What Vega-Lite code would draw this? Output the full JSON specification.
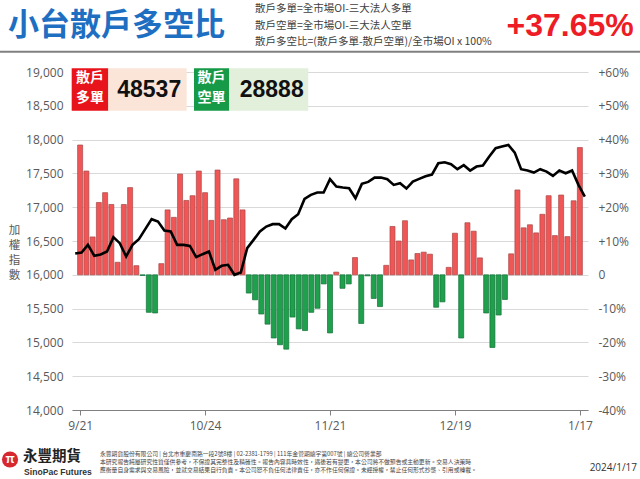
{
  "$schema": "https://vega.github.io/schema/vega-lite/v6.json",
  "width": 516,
  "height": 338,
  "autosize": {"type": "none"},
  "padding": {"left": 72, "top": 72, "right": 52, "bottom": 69},
  "background": "white",
  "config": {"view": {"stroke": null}, "font": "Liberation Sans"},
  "title": {
    "text": "小台散戶多空比",
    "anchor": "start",
    "frame": "group",
    "dx": -64,
    "offset": -38,
    "font": "Noto Sans CJK TC",
    "fontSize": 31,
    "fontWeight": "bold",
    "color": "#1e6fc2"
  },
  "datasets": {
    "daily": [
      {"i": 0, "date": "9/21", "ratio": 38.4, "taiex": 16315},
      {"i": 1, "date": "9/22", "ratio": 30.7, "taiex": 16330},
      {"i": 2, "date": "9/25", "ratio": 11.2, "taiex": 16443},
      {"i": 3, "date": "9/26", "ratio": 21.4, "taiex": 16281},
      {"i": 4, "date": "9/27", "ratio": 24.3, "taiex": 16300},
      {"i": 5, "date": "9/28", "ratio": 20.8, "taiex": 16345},
      {"i": 6, "date": "10/2", "ratio": 3.7, "taiex": 16557},
      {"i": 7, "date": "10/3", "ratio": 20.8, "taiex": 16468},
      {"i": 8, "date": "10/4", "ratio": 25.8, "taiex": 16271},
      {"i": 9, "date": "10/5", "ratio": 2.7, "taiex": 16443},
      {"i": 10, "date": "10/6", "ratio": -0.2, "taiex": 16527},
      {"i": 11, "date": "10/11", "ratio": -11.1, "taiex": 16675},
      {"i": 12, "date": "10/12", "ratio": -11.3, "taiex": 16823},
      {"i": 13, "date": "10/13", "ratio": 3.3, "taiex": 16788},
      {"i": 14, "date": "10/16", "ratio": 19.2, "taiex": 16655},
      {"i": 15, "date": "10/17", "ratio": 17.0, "taiex": 16640},
      {"i": 16, "date": "10/18", "ratio": 29.8, "taiex": 16443},
      {"i": 17, "date": "10/19", "ratio": 22.0, "taiex": 16443},
      {"i": 18, "date": "10/20", "ratio": 23.4, "taiex": 16428},
      {"i": 19, "date": "10/23", "ratio": 30.7, "taiex": 16261},
      {"i": 20, "date": "10/24", "ratio": 24.3, "taiex": 16305},
      {"i": 21, "date": "10/25", "ratio": 16.1, "taiex": 16345},
      {"i": 22, "date": "10/26", "ratio": 31.0, "taiex": 16074},
      {"i": 23, "date": "10/27", "ratio": 16.3, "taiex": 16133},
      {"i": 24, "date": "10/30", "ratio": 16.8, "taiex": 16148},
      {"i": 25, "date": "10/31", "ratio": 28.4, "taiex": 16000},
      {"i": 26, "date": "11/1", "ratio": 19.2, "taiex": 16034},
      {"i": 27, "date": "11/2", "ratio": -5.4, "taiex": 16394},
      {"i": 28, "date": "11/3", "ratio": -7.4, "taiex": 16517},
      {"i": 29, "date": "11/6", "ratio": -11.6, "taiex": 16640},
      {"i": 30, "date": "11/7", "ratio": -14.6, "taiex": 16714},
      {"i": 31, "date": "11/8", "ratio": -18.7, "taiex": 16749},
      {"i": 32, "date": "11/9", "ratio": -20.7, "taiex": 16749},
      {"i": 33, "date": "11/10", "ratio": -22.0, "taiex": 16685},
      {"i": 34, "date": "11/13", "ratio": -12.5, "taiex": 16823},
      {"i": 35, "date": "11/14", "ratio": -16.0, "taiex": 16897},
      {"i": 36, "date": "11/15", "ratio": -16.5, "taiex": 17123},
      {"i": 37, "date": "11/16", "ratio": -11.1, "taiex": 17182},
      {"i": 38, "date": "11/17", "ratio": -9.9, "taiex": 17217},
      {"i": 39, "date": "11/20", "ratio": -2.7, "taiex": 17217},
      {"i": 40, "date": "11/21", "ratio": -17.2, "taiex": 17414},
      {"i": 41, "date": "11/22", "ratio": 0.8, "taiex": 17305},
      {"i": 42, "date": "11/23", "ratio": -4.0, "taiex": 17291},
      {"i": 43, "date": "11/24", "ratio": -2.7, "taiex": 17281},
      {"i": 44, "date": "11/27", "ratio": 5.1, "taiex": 17133},
      {"i": 45, "date": "11/28", "ratio": -14.4, "taiex": 17345},
      {"i": 46, "date": "11/29", "ratio": -0.3, "taiex": 17374},
      {"i": 47, "date": "11/30", "ratio": -7.0, "taiex": 17438},
      {"i": 48, "date": "12/1", "ratio": -9.4, "taiex": 17438},
      {"i": 49, "date": "12/4", "ratio": 2.8, "taiex": 17414},
      {"i": 50, "date": "12/5", "ratio": 14.3, "taiex": 17330},
      {"i": 51, "date": "12/6", "ratio": 10.0, "taiex": 17355},
      {"i": 52, "date": "12/7", "ratio": 16.0, "taiex": 17276},
      {"i": 53, "date": "12/8", "ratio": 4.4, "taiex": 17379},
      {"i": 54, "date": "12/11", "ratio": 6.3, "taiex": 17419},
      {"i": 55, "date": "12/12", "ratio": 6.7, "taiex": 17458},
      {"i": 56, "date": "12/13", "ratio": 6.1, "taiex": 17483},
      {"i": 57, "date": "12/14", "ratio": -9.6, "taiex": 17650},
      {"i": 58, "date": "12/15", "ratio": -8.0, "taiex": 17665},
      {"i": 59, "date": "12/18", "ratio": 2.2, "taiex": 17635},
      {"i": 60, "date": "12/19", "ratio": 12.3, "taiex": 17562},
      {"i": 61, "date": "12/20", "ratio": -18.7, "taiex": 17621},
      {"i": 62, "date": "12/21", "ratio": 15.4, "taiex": 17542},
      {"i": 63, "date": "12/22", "ratio": 12.9, "taiex": 17601},
      {"i": 64, "date": "12/25", "ratio": 5.0, "taiex": 17616},
      {"i": 65, "date": "12/26", "ratio": -11.3, "taiex": 17749},
      {"i": 66, "date": "12/27", "ratio": -21.5, "taiex": 17872},
      {"i": 67, "date": "12/28", "ratio": -11.9, "taiex": 17897},
      {"i": 68, "date": "12/29", "ratio": -7.3, "taiex": 17921},
      {"i": 69, "date": "1/2", "ratio": 6.2, "taiex": 17808},
      {"i": 70, "date": "1/3", "ratio": 25.1, "taiex": 17562},
      {"i": 71, "date": "1/4", "ratio": 13.9, "taiex": 17542},
      {"i": 72, "date": "1/5", "ratio": 14.8, "taiex": 17512},
      {"i": 73, "date": "1/8", "ratio": 12.4, "taiex": 17562},
      {"i": 74, "date": "1/9", "ratio": 17.9, "taiex": 17527},
      {"i": 75, "date": "1/10", "ratio": 23.4, "taiex": 17463},
      {"i": 76, "date": "1/11", "ratio": 11.6, "taiex": 17542},
      {"i": 77, "date": "1/12", "ratio": 23.6, "taiex": 17502},
      {"i": 78, "date": "1/15", "ratio": 11.3, "taiex": 17542},
      {"i": 79, "date": "1/16", "ratio": 21.9, "taiex": 17330},
      {"i": 80, "date": "1/17", "ratio": 37.65, "taiex": 17158}
    ],
    "boxes": [
      {"side": "多單", "count": 48537},
      {"side": "空單", "count": 28888}
    ],
    "one": [{}]
  },
  "layer": [
    {
      "data": {"name": "daily"},
      "mark": {"type": "bar", "width": 5, "strokeWidth": 0.7},
      "encoding": {
        "x": {
          "field": "i",
          "type": "quantitative",
          "scale": {"domain": [-0.5, 80.5], "nice": false, "zero": false},
          "axis": {
            "orient": "bottom",
            "values": [0, 20, 40, 60, 80],
            "labelExpr": "datum.value == 0 ? '9/21' : datum.value == 20 ? '10/24' : datum.value == 40 ? '11/21' : datum.value == 60 ? '12/19' : '1/17'",
            "labelFlush": false,
            "labelOverlap": false,
            "grid": false,
            "domainColor": "#808080",
            "tickColor": "#808080",
            "tickSize": 5,
            "labelPadding": 5,
            "labelFont": "Open Sans",
            "labelFontSize": 12,
            "labelColor": "#595959",
            "title": null
          }
        },
        "y": {
          "field": "ratio",
          "type": "quantitative",
          "scale": {"domain": [-40, 60], "nice": false},
          "axis": {
            "orient": "right",
            "values": [-40, -30, -20, -10, 0, 10, 20, 30, 40, 50, 60],
            "labelExpr": "datum.value > 0 ? '+' + datum.value + '%' : (datum.value == 0 ? '0' : datum.value + '%')",
            "grid": false,
            "domain": false,
            "ticks": false,
            "labelPadding": 10,
            "labelFlush": false,
            "labelFont": "Open Sans",
            "labelFontSize": 12,
            "labelColor": "#595959",
            "title": null
          }
        },
        "color": {"condition": {"test": "datum.ratio >= 0", "value": "#f05656"}, "value": "#1fa04c"},
        "stroke": {"condition": {"test": "datum.ratio >= 0", "value": "#a84848"}, "value": "#16703a"}
      }
    },
    {
      "data": {"name": "daily"},
      "mark": {"type": "line", "color": "#000000", "strokeWidth": 2.6},
      "encoding": {
        "x": {"field": "i", "type": "quantitative", "scale": {"domain": [-0.5, 80.5], "nice": false, "zero": false}, "axis": null},
        "y": {
          "field": "taiex",
          "type": "quantitative",
          "scale": {"domain": [14000, 19000], "nice": false, "zero": false},
          "axis": {
            "orient": "left",
            "values": [14000, 14500, 15000, 15500, 16000, 16500, 17000, 17500, 18000, 18500, 19000],
            "grid": true,
            "gridColor": "#d9d9d9",
            "domain": false,
            "ticks": false,
            "labelPadding": 9,
            "labelFlush": false,
            "labelFont": "Open Sans",
            "labelFontSize": 12,
            "labelColor": "#595959",
            "title": ["加", "權", "指", "數"],
            "titleAngle": 0,
            "titleX": -58,
            "titleY": 152,
            "titleAlign": "center",
            "titleBaseline": "top",
            "titleFont": "Noto Sans CJK TC",
            "titleFontSize": 11.5,
            "titleFontWeight": "normal",
            "titleLineHeight": 15,
            "titleColor": "#595959"
          }
        }
      }
    },
    {
      "layer": [
        {
          "data": {"name": "one"},
          "mark": {"type": "rect", "color": "#e8141c"},
          "encoding": {
            "x": {"datum": -0.55, "scale": {"domain": [-0.5, 80.5], "nice": false, "zero": false}, "axis": null},
            "x2": {"datum": 5.2},
            "y": {"datum": 19055, "scale": {"domain": [14000, 19000], "nice": false, "zero": false}, "axis": null},
            "y2": {"datum": 18427}
          }
        },
        {
          "data": {"name": "one"},
          "mark": {"type": "rect", "color": "#fbe4d8"},
          "encoding": {"x": {"datum": 5.2, "axis": null}, "x2": {"datum": 17.5}, "y": {"datum": 19055, "axis": null}, "y2": {"datum": 18427}}
        },
        {
          "data": {"name": "one"},
          "mark": {"type": "rect", "color": "#169a48"},
          "encoding": {"x": {"datum": 18.65, "axis": null}, "x2": {"datum": 24.19}, "y": {"datum": 19055, "axis": null}, "y2": {"datum": 18427}}
        },
        {
          "data": {"name": "one"},
          "mark": {"type": "rect", "color": "#e2efda"},
          "encoding": {"x": {"datum": 24.19, "axis": null}, "x2": {"datum": 36.59}, "y": {"datum": 19055, "axis": null}, "y2": {"datum": 18427}}
        },
        {
          "data": {"name": "one"},
          "mark": {"type": "text", "font": "Noto Sans CJK TC", "fontSize": 14, "fontWeight": "bold", "color": "#ffffff", "align": "center", "baseline": "top", "lineHeight": 20},
          "encoding": {"x": {"datum": 2.33, "axis": null}, "y": {"datum": 19010, "axis": null}, "text": {"value": ["散戶", "多單"]}}
        },
        {
          "data": {"name": "one"},
          "mark": {"type": "text", "font": "Noto Sans CJK TC", "fontSize": 14, "fontWeight": "bold", "color": "#ffffff", "align": "center", "baseline": "top", "lineHeight": 20},
          "encoding": {"x": {"datum": 21.41, "axis": null}, "y": {"datum": 19010, "axis": null}, "text": {"value": ["散戶", "空單"]}}
        },
        {
          "data": {"name": "boxes"},
          "transform": [{"filter": "datum.side == '多單'"}],
          "mark": {"type": "text", "font": "Liberation Sans", "fontSize": 23, "fontWeight": "bold", "color": "#111111", "align": "center", "baseline": "middle"},
          "encoding": {"x": {"datum": 11.62, "axis": null}, "y": {"datum": 18734, "axis": null}, "text": {"field": "count", "type": "quantitative", "format": "d"}}
        },
        {
          "data": {"name": "boxes"},
          "transform": [{"filter": "datum.side == '空單'"}],
          "mark": {"type": "text", "font": "Liberation Sans", "fontSize": 23, "fontWeight": "bold", "color": "#111111", "align": "center", "baseline": "middle"},
          "encoding": {"x": {"datum": 30.85, "axis": null}, "y": {"datum": 18734, "axis": null}, "text": {"field": "count", "type": "quantitative", "format": "d"}}
        },
        {
          "data": {"name": "one"},
          "mark": {"type": "rule", "color": "#808080", "strokeWidth": 2},
          "encoding": {"x": {"datum": -11.8, "axis": null}, "x2": {"datum": 88.7}, "y": {"datum": 19300, "axis": null}}
        },
        {
          "data": {"name": "one"},
          "mark": {"type": "text", "font": "Noto Sans CJK TC", "fontSize": 10.5, "color": "#404040", "align": "left", "baseline": "top", "lineHeight": 16.8},
          "encoding": {"x": {"datum": 28.23, "axis": null}, "y": {"datum": 20010, "axis": null}, "text": {"value": ["散戶多單=全市場OI-三大法人多單", "散戶空單=全市場OI-三大法人空單", "散戶多空比=(散戶多單-散戶空單)/全市場OI x 100%"]}}
        },
        {
          "data": {"name": "one"},
          "mark": {"type": "text", "font": "Liberation Sans", "fontSize": 32, "fontWeight": "bold", "color": "#ee1c25", "align": "center", "baseline": "middle"},
          "encoding": {"x": {"datum": 77.7, "axis": null}, "y": {"datum": 19680, "axis": null}, "text": {"value": "+37.65%"}}
        },
        {
          "data": {"name": "one"},
          "mark": {"type": "point", "shape": "circle", "filled": true, "color": "#d7282f", "opacity": 1, "size": 260},
          "encoding": {"x": {"datum": -10.23, "axis": null}, "y": {"datum": 13268, "axis": null}}
        },
        {
          "data": {"name": "one"},
          "mark": {"type": "text", "font": "Liberation Sans", "fontSize": 12, "fontWeight": "bold", "color": "#ffffff", "align": "center", "baseline": "middle"},
          "encoding": {"x": {"datum": -10.23, "axis": null}, "y": {"datum": 13268, "axis": null}, "text": {"value": "π"}}
        },
        {
          "data": {"name": "one"},
          "mark": {"type": "text", "font": "Noto Sans CJK TC", "fontSize": 14.5, "fontWeight": "bold", "color": "#222222", "align": "left", "baseline": "middle"},
          "encoding": {"x": {"datum": -8.19, "axis": null}, "y": {"datum": 13300, "axis": null}, "text": {"value": "永豐期貨"}}
        },
        {
          "data": {"name": "one"},
          "mark": {"type": "text", "font": "Liberation Sans", "fontSize": 8.6, "fontWeight": "bold", "color": "#333333", "align": "left", "baseline": "middle"},
          "encoding": {"x": {"datum": -8.03, "axis": null}, "y": {"datum": 13083, "axis": null}, "text": {"value": "SinoPac Futures"}}
        },
        {
          "data": {"name": "one"},
          "mark": {"type": "text", "font": "Noto Sans CJK TC", "fontSize": 5.8, "color": "#444444", "align": "left", "baseline": "top", "lineHeight": 8},
          "encoding": {"x": {"datum": 3.9, "axis": null}, "y": {"datum": 13393, "axis": null}, "text": {"value": ["永豐期貨股份有限公司 | 台北市重慶南路一段2號8樓 | 02-2381-1799 | 111年金管期總字第007號 | 總公司營業部", "本研究報告純屬研究性質僅供參考，不保證其完整性及精確性。報告內容具時效性，遇後若有變更，本公司將不做預告或主動更新。交易人決策時", "應衡量自身需求與交易風險，並就交易結果自行負責。本公司恕不負任何法律責任，亦不作任何保證。未經授權，禁止任何形式抄襲、引用或轉載。"]}}
        },
        {
          "data": {"name": "one"},
          "mark": {"type": "text", "font": "Open Sans", "fontSize": 10, "color": "#333333", "align": "right", "baseline": "middle"},
          "encoding": {"x": {"datum": 88.19, "axis": null}, "y": {"datum": 13135, "axis": null}, "text": {"value": "2024/1/17"}}
        }
      ]
    }
  ],
  "resolve": {"scale": {"x": "independent", "y": "independent"}}
}
